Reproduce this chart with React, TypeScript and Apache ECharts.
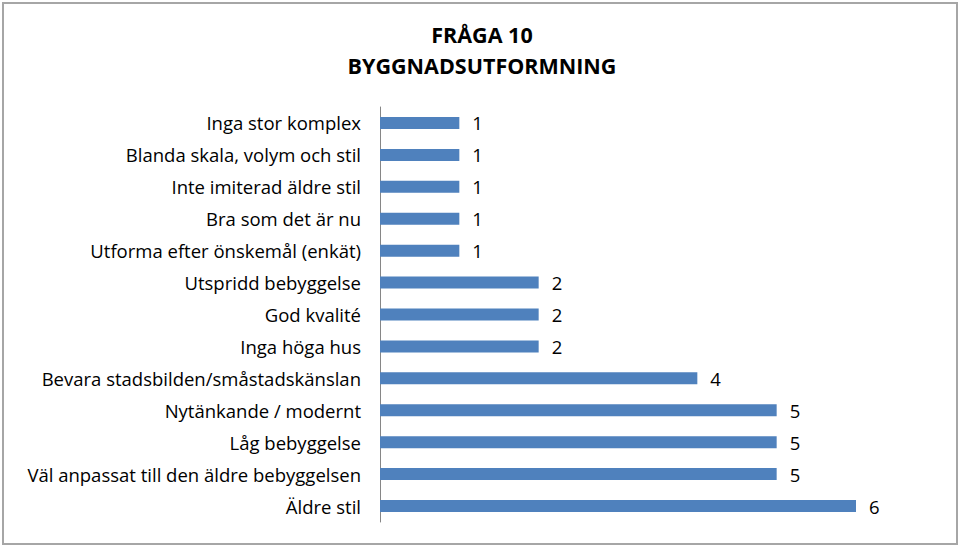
import React, { useEffect, useRef } from "react";
import * as echarts from "echarts";

const categories = [
  "Inga stor komplex",
  "Blanda skala, volym och stil",
  "Inte imiterad äldre stil",
  "Bra som det är nu",
  "Utforma efter önskemål (enkät)",
  "Utspridd bebyggelse",
  "God kvalité",
  "Inga höga hus",
  "Bevara stadsbilden/småstadskänslan",
  "Nytänkande / modernt",
  "Låg bebyggelse",
  "Väl anpassat till den äldre bebyggelsen",
  "Äldre stil",
];
const values = [1, 1, 1, 1, 1, 2, 2, 2, 4, 5, 5, 5, 6];
const titleLines = ["FRÅGA 10", "BYGGNADSUTFORMNING"];

const FONT = "'Open Sans', Lato, sans-serif";

export default function App() {
  const ref = useRef<HTMLDivElement>(null);
  useEffect(() => {
    if (!ref.current) return;
    const chart = echarts.init(ref.current, undefined, { renderer: "svg" });
    chart.setOption({
      animation: false,
      backgroundColor: "#ffffff",
      title: {
        text: titleLines.join("\n"),
        left: 477,
        top: 14,
        textAlign: "center",
        textStyle: {
          fontFamily: FONT,
          fontSize: 21.5,
          fontWeight: "bold",
          color: "#000",
          lineHeight: 31,
        },
      },
      graphic: [
        {
          type: "rect",
          shape: { x: 3, y: 3, width: 954, height: 541 },
          style: { fill: "none", stroke: "#a6a6a6", lineWidth: 2 },
          z: -1,
        },
      ],
      grid: { left: 380, right: 104, top: 107, bottom: 27, containLabel: false },
      xAxis: {
        type: "value",
        min: 0,
        max: 6,
        show: false,
        splitLine: { show: false },
      },
      yAxis: {
        type: "category",
        data: categories,
        inverse: true,
        axisLine: { show: true, lineStyle: { color: "#868686", width: 1 } },
        axisTick: { show: false },
        axisLabel: {
          margin: 19,
          fontFamily: FONT,
          fontSize: 18.5,
          color: "#000",
        },
      },
      series: [
        {
          type: "bar",
          data: values,
          barWidth: 12,
          itemStyle: { color: "#4F81BD" },
          label: {
            show: true,
            position: "right",
            distance: 13,
            fontFamily: FONT,
            fontSize: 18.5,
            color: "#000",
          },
        },
      ],
    });
    return () => chart.dispose();
  }, []);
  return <div ref={ref} style={{ width: 960, height: 549, position: "absolute", left: 0, top: 0 }} />;
}
